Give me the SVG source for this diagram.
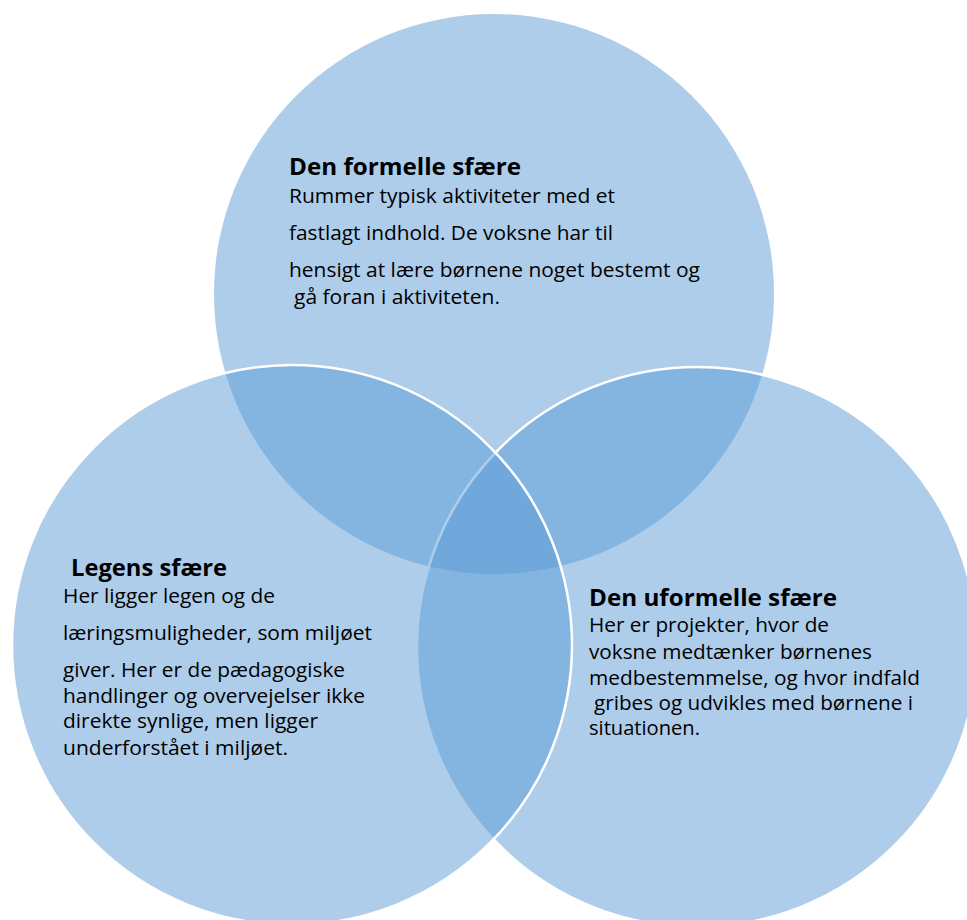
<svg xmlns="http://www.w3.org/2000/svg" width="967" height="920" viewBox="0 0 967 920">
<style>
.c{fill:#5B9BD5;fill-opacity:0.5}
.s{stroke:#FFFFFF;stroke-width:2.5}
.h{font-family:"Open Sans","Noto Sans","Liberation Sans",sans-serif;font-weight:bold;font-size:22.5px;fill:#000}
.b{font-family:"Open Sans","Noto Sans","Liberation Sans",sans-serif;font-size:19.5px;fill:#000}
</style>
<rect width="967" height="920" fill="#FFFFFF"/>
<g id="formelle">
<circle class="c" cx="494" cy="294" r="280"/>
<text class="h" x="289" y="175" textLength="232" lengthAdjust="spacingAndGlyphs">Den formelle sfære</text>
<text class="b" x="289" y="203" textLength="326" lengthAdjust="spacingAndGlyphs">Rummer typisk aktiviteter med et</text>
<text class="b" x="289" y="240" textLength="324" lengthAdjust="spacingAndGlyphs">fastlagt indhold. De voksne har til</text>
<text class="b" x="289" y="277" textLength="411" lengthAdjust="spacingAndGlyphs">hensigt at lære børnene noget bestemt og</text>
<text class="b" x="294" y="304" textLength="206" lengthAdjust="spacingAndGlyphs">gå foran i aktiviteten.</text>
</g>
<g id="uformelle">
<circle class="c s" cx="697" cy="647" r="280"/>
<text class="h" x="589" y="606" textLength="248" lengthAdjust="spacingAndGlyphs">Den uformelle sfære</text>
<text class="b" x="589" y="632" textLength="240" lengthAdjust="spacingAndGlyphs">Her er projekter, hvor de</text>
<text class="b" x="589" y="659" textLength="283" lengthAdjust="spacingAndGlyphs">voksne medtænker børnenes</text>
<text class="b" x="589" y="685" textLength="331" lengthAdjust="spacingAndGlyphs">medbestemmelse, og hvor indfald</text>
<text class="b" x="594" y="710" textLength="319" lengthAdjust="spacingAndGlyphs">gribes og udvikles med børnene i</text>
<text class="b" x="589" y="735" textLength="111" lengthAdjust="spacingAndGlyphs">situationen.</text>
</g>
<g id="legens">
<circle class="c s" cx="292" cy="645" r="280"/>
<text class="h" x="71" y="576" textLength="156" lengthAdjust="spacingAndGlyphs">Legens sfære</text>
<text class="b" x="63" y="603" textLength="212" lengthAdjust="spacingAndGlyphs">Her ligger legen og de</text>
<text class="b" x="63" y="640" textLength="309" lengthAdjust="spacingAndGlyphs">læringsmuligheder, som miljøet</text>
<text class="b" x="63" y="677" textLength="282" lengthAdjust="spacingAndGlyphs">giver. Her er de pædagogiske</text>
<text class="b" x="63" y="703" textLength="302" lengthAdjust="spacingAndGlyphs">handlinger og overvejelser ikke</text>
<text class="b" x="63" y="728" textLength="255" lengthAdjust="spacingAndGlyphs">direkte synlige, men ligger</text>
<text class="b" x="63" y="755" textLength="225" lengthAdjust="spacingAndGlyphs">underforstået i miljøet.</text>
</g>
<g id="connectors"></g>
</svg>
